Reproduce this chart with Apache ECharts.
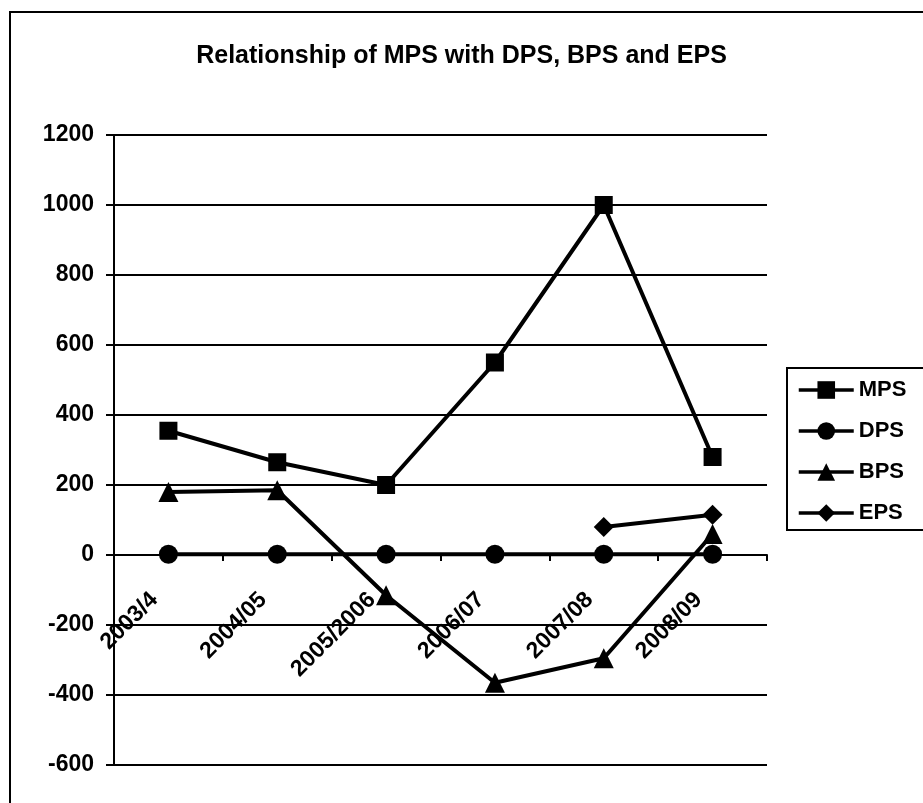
<!DOCTYPE html>
<html>
<head>
<meta charset="utf-8">
<script src="https://cdn.jsdelivr.net/npm/echarts@6/dist/echarts.min.js"></script>
<style>
html,body{margin:0;padding:0;background:#fff;}
#chart{width:923px;height:803px;}
</style>
</head>
<body>
<div id="chart"></div>
<script>
var categories = ['2003/4', '2004/05', '2005/2006', '2006/07', '2007/08', '2008/09'];
var mps = [355, 265, 200, 550, 1000, 280];
var dps = [2, 2, 2, 2, 2, 2];
var bps = [180, 185, -115, -365, -295, 60];
var eps = [null, null, null, null, 80, 115];
var yMin = -600, yMax = 1200, yStep = 200;
var titleText = 'Relationship of MPS with DPS, BPS and EPS';

var FONT = '"Liberation Sans", Arial, sans-serif';
var chart = echarts.init(document.getElementById('chart'));

var gridTop = 135, gridBottom = 38, H = 803;
var plotH = H - gridTop - gridBottom;
// shift the category axis up to the zero line
var zeroOffset = -plotH * (0 - yMin) / (yMax - yMin);

function mk(name, data, symbol, size) {
  return {
    name: name, type: 'line', data: data,
    symbol: symbol, symbolSize: size, showSymbol: true,
    connectNulls: false,
    lineStyle: {color: '#000', width: 4},
    itemStyle: {color: '#000'},
    animation: false
  };
}

chart.setOption({
  animation: false,
  backgroundColor: '#fff',
  title: {
    text: titleText, left: 'center', top: 39,
    textStyle: {fontFamily: FONT, fontWeight: 'bold', fontSize: 25, color: '#000'}
  },
  legend: {
    orient: 'vertical', left: 797, top: 379, padding: 0,
    itemWidth: 55, itemHeight: 22, itemGap: 19,
    lineStyle: {width: 3.5},
    textStyle: {fontFamily: FONT, fontWeight: 'bold', fontSize: 22, color: '#000'},
    data: ['MPS', 'DPS', 'BPS', 'EPS']
  },
  graphic: [
    {type: 'rect', shape: {x: 10, y: 12, width: 1000, height: 900}, style: {fill: null, stroke: '#000', lineWidth: 2}, silent: true},
    {type: 'rect', shape: {x: 787, y: 368, width: 300, height: 162}, style: {fill: null, stroke: '#000', lineWidth: 2}, silent: true}
  ],
  grid: {left: 114, right: 156, top: gridTop, bottom: gridBottom, containLabel: false, outerBoundsMode: 'none'},
  xAxis: {
    type: 'category', data: categories, boundaryGap: true,
    position: 'bottom', offset: zeroOffset,
    axisLine: {onZero: false, lineStyle: {color: '#000', width: 2}},
    axisTick: {show: true, length: 6, lineStyle: {color: '#000', width: 2}},
    axisLabel: {rotate: 45, margin: 27, interval: 0, padding: [0, 20, 0, 0], fontFamily: FONT, fontWeight: 'bold', fontSize: 23, color: '#000'},
    splitLine: {show: false}
  },
  yAxis: {
    type: 'value', min: yMin, max: yMax, interval: yStep,
    axisLine: {show: true, lineStyle: {color: '#000', width: 2}},
    axisTick: {show: true, length: 8, lineStyle: {color: '#000', width: 2}},
    axisLabel: {margin: 20, fontFamily: FONT, fontWeight: 'bold', fontSize: 23, color: '#000',
      formatter: function (v) { return String(v); }},
    splitLine: {show: true, lineStyle: {color: '#000', width: 2}}
  },
  series: [
    mk('MPS', mps, 'rect', 18),
    mk('DPS', dps, 'circle', 19),
    mk('BPS', bps, 'triangle', 20),
    mk('EPS', eps, 'diamond', 20)
  ]
});
</script>
</body>
</html>
